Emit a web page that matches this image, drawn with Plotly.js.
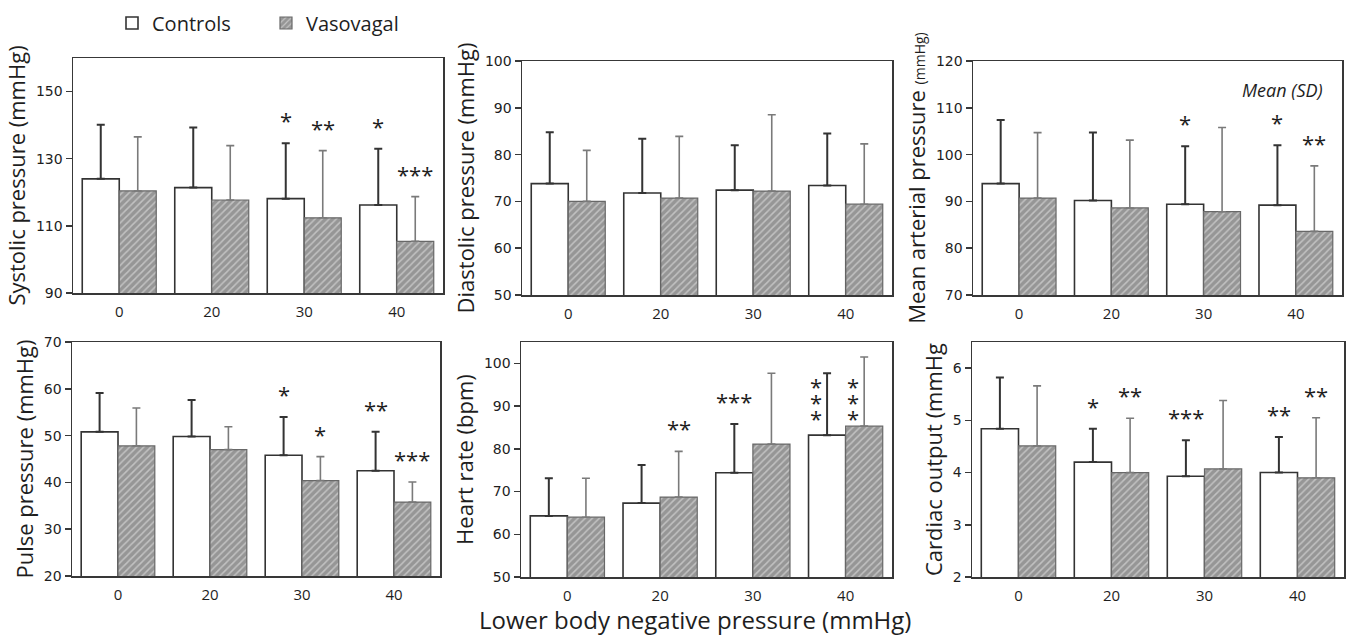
<!DOCTYPE html>
<html><head><meta charset="utf-8">
<script src="https://cdn.plot.ly/plotly-3.0.1.min.js"></script>
<style>html,body{margin:0;padding:0;background:#fff}#chart{width:1353px;height:636px}</style>
</head><body><div id="chart"></div>
<script>
// ---------------- data ----------------
const categories = ['0', '20', '30', '40'];
const seriesNames = ['Controls', 'Vasovagal'];

const systolicControls = [124.0, 121.4, 118.1, 116.2];
const systolicControlsSD = [16.1, 17.9, 16.5, 16.8];
const systolicVasovagal = [120.4, 117.7, 112.4, 105.4];
const systolicVasovagalSD = [16.1, 16.2, 20.0, 13.3];
const systolicSigControls = ['', '', '*', '*'];
const systolicSigVasovagal = ['', '', '**', '***'];

const diastolicControls = [73.8, 71.8, 72.4, 73.4];
const diastolicControlsSD = [11.0, 11.6, 9.6, 11.1];
const diastolicVasovagal = [70.0, 70.7, 72.2, 69.4];
const diastolicVasovagalSD = [10.9, 13.2, 16.3, 12.9];
const diastolicSigControls = ['', '', '', ''];
const diastolicSigVasovagal = ['', '', '', ''];

const mapControls = [93.8, 90.2, 89.4, 89.2];
const mapControlsSD = [13.6, 14.5, 12.4, 12.8];
const mapVasovagal = [90.7, 88.6, 87.8, 83.6];
const mapVasovagalSD = [14.0, 14.5, 18.0, 14.0];
const mapSigControls = ['', '', '*', '*'];
const mapSigVasovagal = ['', '', '', '**'];

const pulseControls = [50.8, 49.8, 45.8, 42.5];
const pulseControlsSD = [8.3, 7.8, 8.2, 8.3];
const pulseVasovagal = [47.8, 47.0, 40.4, 35.8];
const pulseVasovagalSD = [8.1, 4.9, 5.1, 4.3];
const pulseSigControls = ['', '', '*', '**'];
const pulseSigVasovagal = ['', '', '*', '***'];

const hrControls = [64.3, 67.3, 74.4, 83.2];
const hrControlsSD = [8.8, 8.9, 11.4, 14.5];
const hrVasovagal = [64.0, 68.7, 81.1, 85.3];
const hrVasovagalSD = [9.1, 10.7, 16.6, 16.2];
const hrSigControls = ['', '', '***', '***'];
const hrSigVasovagal = ['', '**', '', '***'];
const hrStackedCategory = ['40'];   // stars drawn vertically at this level

const coControls = [4.84, 4.20, 3.93, 4.00];
const coControlsSD = [0.98, 0.64, 0.69, 0.68];
const coVasovagal = [4.51, 4.00, 4.07, 3.90];
const coVasovagalSD = [1.15, 1.04, 1.31, 1.15];
const coSigControls = ['', '*', '***', '**'];
const coSigVasovagal = ['', '**', '', '**'];

// ---------------- panels ----------------
const W = 1353, H = 636;
const panels = [
  {c: systolicControls, cs: systolicControlsSD, v: systolicVasovagal, vs: systolicVasovagalSD,
   sc: systolicSigControls, sv: systolicSigVasovagal, stacked: [],
   title: 'Systolic pressure (mmHg)', range: [90, 160], tick0: 90, dtick: 20,
   px: [73, 443], py: [58, 293]},
  {c: diastolicControls, cs: diastolicControlsSD, v: diastolicVasovagal, vs: diastolicVasovagalSD,
   sc: diastolicSigControls, sv: diastolicSigVasovagal, stacked: [],
   title: 'Diastolic pressure (mmHg)', range: [50, 100], tick0: 50, dtick: 10,
   px: [522, 892], py: [61, 295]},
  {c: mapControls, cs: mapControlsSD, v: mapVasovagal, vs: mapVasovagalSD,
   sc: mapSigControls, sv: mapSigVasovagal, stacked: [],
   title: 'Mean arterial pressure <span style="font-size:14px">(mmHg)</span>', range: [70, 120], tick0: 70, dtick: 10,
   px: [973, 1342], py: [61, 295]},
  {c: pulseControls, cs: pulseControlsSD, v: pulseVasovagal, vs: pulseVasovagalSD,
   sc: pulseSigControls, sv: pulseSigVasovagal, stacked: [],
   title: 'Pulse pressure (mmHg)', range: [20, 70], tick0: 20, dtick: 10,
   px: [72, 440], py: [342, 576]},
  {c: hrControls, cs: hrControlsSD, v: hrVasovagal, vs: hrVasovagalSD,
   sc: hrSigControls, sv: hrSigVasovagal, stacked: hrStackedCategory,
   title: 'Heart rate (bpm)', range: [50, 105], tick0: 50, dtick: 10,
   px: [521, 892], py: [342, 577]},
  {c: coControls, cs: coControlsSD, v: coVasovagal, vs: coVasovagalSD,
   sc: coSigControls, sv: coSigVasovagal, stacked: [],
   title: 'Cardiac output (mmHg', range: [2, 6.5], tick0: 2, dtick: 1,
   px: [972, 1344], py: [342, 577]}
];

const ink = '#1e1e1e';
const frame = '#383838';
const traces = [];
const annotations = [];
const layout = {
  width: W, height: H,
  margin: {l: 0, r: 0, t: 0, b: 0},
  paper_bgcolor: '#fff', plot_bgcolor: '#fff',
  barmode: 'group', bargap: 0.2, bargroupgap: 0,
  font: {family: 'Open Sans, sans-serif', color: ink},
  showlegend: true,
  legend: {orientation: 'h', x: 112 / W, xanchor: 'left', y: 1 - 23 / H, yanchor: 'middle',
           font: {family: 'Open Sans', size: 20, color: ink}, bgcolor: 'rgba(0,0,0,0)',
           itemwidth: 30, traceorder: 'normal', entrywidth: 109, entrywidthmode: 'pixels'}
};

panels.forEach((p, k) => {
  const n = k === 0 ? '' : String(k + 1);
  const xa = 'x' + n, ya = 'y' + n;
  traces.push({
    type: 'bar', name: seriesNames[0], x: categories, y: p.c, xaxis: xa, yaxis: ya,
    showlegend: k === 0, legendgroup: 'c',
    marker: {color: '#ffffff', line: {color: '#333', width: 1.6}},
    error_y: {type: 'data', symmetric: false, array: p.cs, arrayminus: p.cs.map(() => 0),
              color: '#333', thickness: 2, width: 4},
    hoverinfo: 'skip'
  });
  traces.push({
    type: 'bar', name: seriesNames[1], x: categories, y: p.v, xaxis: xa, yaxis: ya,
    showlegend: k === 0, legendgroup: 'v',
    marker: {color: '#9a9a9a',
             pattern: {shape: '/', bgcolor: '#969696', fgcolor: '#c2c2c2', size: 5, solidity: 0.3},
             line: {color: '#686868', width: 1.2}},
    error_y: {type: 'data', symmetric: false, array: p.vs, arrayminus: p.vs.map(() => 0),
              color: '#7a7a7a', thickness: 1.6, width: 4},
    hoverinfo: 'skip'
  });

  layout['xaxis' + n] = {
    domain: [p.px[0] / W, p.px[1] / W], anchor: ya, type: 'category',
    range: [-0.5, 3.5], showline: true, mirror: true, linecolor: frame, linewidth: 1.5,
    ticks: 'outside', ticklen: 4, tickcolor: 'rgba(0,0,0,0)',
    showgrid: false, zeroline: false, fixedrange: true,
    tickfont: {family: 'Open Sans', size: 15, color: ink}
  };
  layout['yaxis' + n] = {
    domain: [1 - p.py[1] / H, 1 - p.py[0] / H], anchor: xa,
    range: p.range, tick0: p.tick0, dtick: p.dtick,
    showline: true, mirror: true, linecolor: frame, linewidth: 1.5,
    ticks: 'outside', ticklen: 6, tickwidth: 1.5, tickcolor: frame,
    showgrid: false, zeroline: false, fixedrange: true,
    tickfont: {family: 'DejaVu Sans', size: 14, color: ink},
    title: {text: p.title, font: {family: 'Open Sans', size: 22, color: ink}, standoff: 4}
  };

  categories.forEach((cat, i) => {
    const stacked = p.stacked.indexOf(cat) >= 0;
    [[p.sc, p.c, p.cs, -0.2], [p.sv, p.v, p.vs, 0.2]].forEach(([sig, m, sd, off]) => {
      const s = sig[i];
      if (!s) return;
      if (stacked) {
        const base = Math.max(p.c[i], p.v[i]);
        for (let j = 0; j < s.length; j++) {
          annotations.push({xref: xa, yref: ya, x: i + off, y: base, text: '*',
            showarrow: false, xanchor: 'center', yanchor: 'middle', xshift: -11, yshift: 8 + 16 * j,
            font: {family: 'Open Sans', size: 22, color: ink}});
        }
      } else {
        annotations.push({xref: xa, yref: ya, x: i + off, y: m[i] + sd[i], text: s,
          showarrow: false, xanchor: 'center', yanchor: 'middle', yshift: 23,
          font: {family: 'Open Sans', size: 22, color: ink}});
      }
    });
  });
});

annotations.push({xref: 'x3 domain', yref: 'y3 domain', x: 0.955, y: 0.876, xanchor: 'right', yanchor: 'middle',
  text: '<i>Mean (SD)</i>', showarrow: false, font: {family: 'Open Sans', size: 18, color: ink}});
annotations.push({xref: 'paper', yref: 'paper', x: 695 / W, y: 0, xanchor: 'center', yanchor: 'bottom',
  yshift: -2,
  text: 'Lower body negative pressure (mmHg)', showarrow: false, font: {family: 'Open Sans', size: 24, color: ink}});
layout.annotations = annotations;

Plotly.newPlot('chart', traces, layout, {displayModeBar: false, staticPlot: true});
</script>
</body></html>
